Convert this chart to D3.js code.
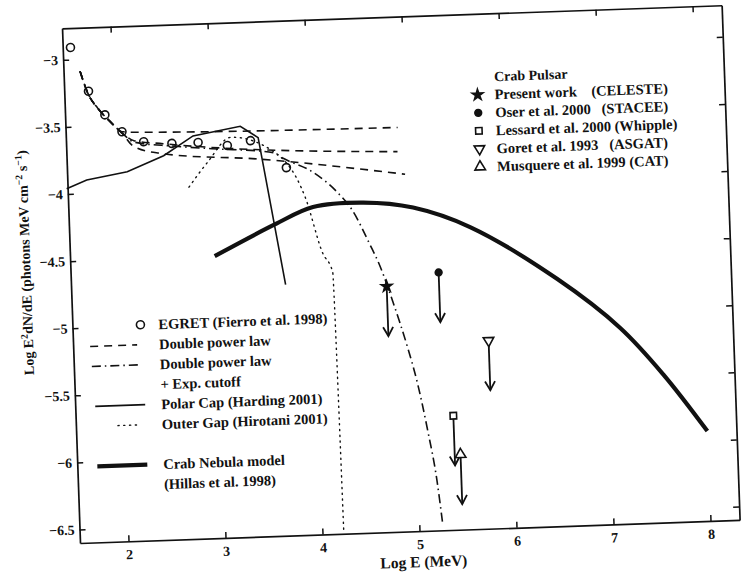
<!DOCTYPE html>
<html>
<head>
<meta charset="utf-8">
<script src="https://cdn.jsdelivr.net/npm/d3@7"></script>
<style>
  body { margin: 0; background: #fff; }
  svg text { font-family: "Liberation Serif", "Times New Roman", serif; font-weight: bold; fill: #111; }
</style>
</head>
<body>
<div id="chart"></div>
<script>
// EGRET points (Fierro et al. 1998), log E (MeV) and log E^2 dN/dE
const egretE = [1.58, 1.75, 1.91, 2.08, 2.30, 2.59, 2.86, 3.16, 3.40, 3.76];
const egretF = [-2.91, -3.24, -3.42, -3.55, -3.63, -3.65, -3.65, -3.68, -3.65, -3.86];

// double power law, three variants of the high energy slope
const dplTopE = [1.67, 1.74, 1.84, 1.96, 2.08, 2.30, 4.92];
const dplTopF = [-3.09, -3.25, -3.37, -3.47, -3.55, -3.56, -3.59];
const dplMidE = [1.67, 1.74, 1.84, 1.96, 2.08, 2.20, 2.50, 4.91];
const dplMidF = [-3.09, -3.25, -3.37, -3.47, -3.56, -3.62, -3.65, -3.77];
const dplLowE = [1.67, 1.74, 1.84, 1.96, 2.08, 2.19, 2.46, 3.49, 4.98];
const dplLowF = [-3.09, -3.25, -3.37, -3.47, -3.56, -3.66, -3.72, -3.79, -3.94];

// double power law + exponential cutoff
const cutE = [1.67, 1.74, 1.84, 1.96, 2.08, 2.20, 2.60, 3.00, 3.63, 3.73, 4.03, 4.28, 4.42, 4.59, 4.69, 4.81, 4.94, 5.03, 5.12, 5.20, 5.24];
const cutF = [-3.09, -3.25, -3.37, -3.47, -3.56, -3.63, -3.67, -3.70, -3.745, -3.79, -3.90, -4.06, -4.19, -4.45, -4.62, -4.89, -5.22, -5.49, -5.85, -6.24, -6.54];

// polar cap (Harding 2001)
const polarE = [1.49, 1.70, 2.12, 2.50, 2.81, 3.30, 3.48, 3.71];
const polarF = [-3.96, -3.90, -3.85, -3.74, -3.60, -3.54, -3.63, -4.73];

// outer gap (Hirotani 2001)
const outerE = [2.75, 2.95, 3.20, 3.60, 3.95, 4.10, 4.20, 4.22];
const outerF = [-3.98, -3.80, -3.62, -3.72, -4.10, -4.50, -4.65, -6.58];

// Crab nebula model (Hillas et al. 1998)
const nebulaE = [2.99, 3.62, 4.02, 4.54, 5.05, 5.63, 6.51, 7.14, 7.57, 8.00];
const nebulaF = [-4.50, -4.28, -4.16, -4.14, -4.19, -4.35, -4.76, -5.14, -5.50, -5.93];

// upper limits
const ulNames = ["Present work    (CELESTE)", "Oser et al. 2000   (STACEE)", "Lessard et al. 2000 (Whipple)", "Goret et al. 1993   (ASGAT)", "Musquere et al. 1999 (CAT)"];
const ulE = [4.75, 5.29, 5.39, 5.78, 5.45];
const ulF = [-4.77, -4.68, -5.75, -5.20, -6.04];

const xTicks = [2, 3, 4, 5, 6, 7, 8];
const yTicks = [-3, -3.5, -4, -4.5, -5, -5.5, -6, -6.5];

const width = 741, height = 573;
const w = 660, h = 515;

const svg = d3.select("#chart").append("svg")
  .attr("width", width)
  .attr("height", height);

// the scanned figure is tilted by about 2 degrees
const g = svg.append("g")
  .attr("transform", "rotate(-2, 80, 543) translate(80, 28)");

const x = d3.scaleLinear().domain([1.5, 8.3]).range([0, w]);
const y = d3.scaleLinear().domain([-6.6, -2.765]).range([h, 0]);

// axes, ticks pointing inward on all four sides
function styleAxis(sel) {
  sel.select(".domain").attr("stroke", "#111").attr("stroke-width", 1.7);
  sel.selectAll(".tick line").attr("stroke", "#111").attr("stroke-width", 1.5);
  sel.selectAll(".tick text").style("font-size", "14px");
}

g.append("g")
  .attr("transform", `translate(0,${h})`)
  .call(d3.axisBottom(x).tickValues(xTicks).tickSizeInner(-6).tickSizeOuter(0).tickPadding(8).tickFormat(d3.format("d")))
  .call(styleAxis);

g.append("g")
  .call(d3.axisLeft(y).tickValues(yTicks).tickSizeInner(-6).tickSizeOuter(0).tickPadding(5).tickFormat(d3.format("")))
  .call(styleAxis);

g.append("g")
  .call(d3.axisTop(x).tickValues(xTicks).tickSizeInner(-6).tickSizeOuter(0).tickFormat(""))
  .call(styleAxis);

g.append("g")
  .attr("transform", `translate(${w},0)`)
  .call(d3.axisRight(y).tickValues(yTicks).tickSizeInner(-6).tickSizeOuter(0).tickFormat(""))
  .call(styleAxis);

// axis titles
g.append("text")
  .attr("x", w / 2 + 13)
  .attr("y", h + 36)
  .attr("text-anchor", "middle")
  .style("font-size", "15.5px")
  .text("Log E (MeV)");

const yLab = g.append("text")
  .attr("transform", "translate(-40,233) rotate(-90)")
  .attr("text-anchor", "middle")
  .style("font-size", "14px");
yLab.append("tspan").text("Log E");
yLab.append("tspan").attr("dy", -5).style("font-size", "10px").text("2");
yLab.append("tspan").attr("dy", 5).text("dN/dE (photons MeV cm");
yLab.append("tspan").attr("dy", -5).style("font-size", "10px").text("−2");
yLab.append("tspan").attr("dy", 5).text(" s");
yLab.append("tspan").attr("dy", -5).style("font-size", "10px").text("−1");
yLab.append("tspan").attr("dy", 5).text(")");

// model curves
const pts = (xs, ys) => xs.map((d, i) => [d, ys[i]]);
const line = d3.line().x(d => x(d[0])).y(d => y(d[1])).curve(d3.curveMonotoneX);
const lineStraight = d3.line().x(d => x(d[0])).y(d => y(d[1]));
const dotted = "1.2,4.6";

function curve(data, gen, dash, sw) {
  g.append("path")
    .datum(data)
    .attr("fill", "none")
    .attr("stroke", "#111")
    .attr("stroke-width", sw)
    .attr("stroke-dasharray", dash)
    .attr("stroke-linecap", dash === dotted ? "round" : "butt")
    .attr("d", gen);
}

curve(pts(dplTopE, dplTopF), line, "8,6", 1.6);
curve(pts(dplMidE, dplMidF), line, "8,6", 1.6);
curve(pts(dplLowE, dplLowF), line, "8,6", 1.6);
curve(pts(cutE, cutF), line, "9,4,1.5,4", 1.6);
curve(pts(polarE, polarF), lineStraight, null, 1.6);
curve(pts(outerE, outerF), line, dotted, 1.4);
curve(pts(nebulaE, nebulaF), d3.line().x(d => x(d[0])).y(d => y(d[1])).curve(d3.curveCatmullRom), null, 4.2);

// EGRET circles
g.selectAll("circle.egret")
  .data(pts(egretE, egretF))
  .join("circle")
  .attr("class", "egret")
  .attr("cx", d => x(d[0]))
  .attr("cy", d => y(d[1]))
  .attr("r", 4)
  .attr("fill", "none")
  .attr("stroke", "#111")
  .attr("stroke-width", 1.6);

// upper limit markers
const symbols = [
  d3.symbol().type(d3.symbolStar).size(36),
  d3.symbol().type(d3.symbolCircle).size(36),
  d3.symbol().type(d3.symbolSquare).size(42),
  d3.symbol().type(d3.symbolTriangle).size(48),
  d3.symbol().type(d3.symbolTriangle).size(48)
];
const filled = [true, true, false, false, false];
const flipped = [false, false, false, true, false];
const arrowLen = 0.37;

function marker(sel, i, cx, cy) {
  sel.append("path")
    .attr("d", symbols[i]())
    .attr("transform", `translate(${cx},${cy})` + (flipped[i] ? " rotate(180)" : ""))
    .attr("fill", filled[i] ? "#111" : "#fff")
    .attr("stroke", "#111")
    .attr("stroke-width", 1.6);
}

ulE.forEach((e, i) => {
  const px = x(e), py = y(ulF[i]), ty = y(ulF[i] - arrowLen);
  g.append("line")
    .attr("x1", px).attr("y1", py)
    .attr("x2", px).attr("y2", ty)
    .attr("stroke", "#111").attr("stroke-width", 1.8);
  g.append("path")
    .attr("d", `M${px - 5},${ty - 9}L${px},${ty}L${px + 5},${ty - 9}`)
    .attr("fill", "none").attr("stroke", "#111").attr("stroke-width", 1.8);
  marker(g, i, px, py);
});

// legend: Crab pulsar upper limits
const legR = g.append("g").attr("transform", "translate(413,63)");
legR.append("text").attr("x", 17).attr("y", 0).attr("dy", "0.35em")
  .style("font-size", "14px").text("Crab Pulsar");
ulNames.forEach((name, i) => {
  const yy = 18 + i * 18;
  marker(legR, i, 0, yy);
  legR.append("text").attr("x", 17).attr("y", yy).attr("dy", "0.35em")
    .style("font-size", "14.5px").style("white-space", "pre").attr("xml:space", "preserve").text(name);
});

// legend: models
const legL = g.append("g");
const legItems = [
  { label: "EGRET (Fierro et al. 1998)", y: 299, kind: "circle" },
  { label: "Double power law", y: 319, kind: "line", dash: "8,6", sw: 1.6, x1: 17, x2: 64 },
  { label: "Double power law", y: 339, kind: "line", dash: "9,4,1.5,4", sw: 1.6, x1: 18, x2: 65 },
  { label: "+ Exp. cutoff", y: 359, kind: "none" },
  { label: "Polar Cap (Harding 2001)", y: 379, kind: "line", dash: null, sw: 1.6, x1: 20, x2: 70 },
  { label: "Outer Gap (Hirotani 2001)", y: 399, kind: "line", dash: dotted, sw: 1.4, x1: 42, x2: 62 },
  { label: "Crab Nebula model", y: 439, kind: "line", dash: null, sw: 4.2, x1: 20, x2: 70 },
  { label: "(Hillas et al. 1998)", y: 459, kind: "none" }
];
legItems.forEach(it => {
  if (it.kind === "circle") {
    legL.append("circle").attr("cx", 68).attr("cy", it.y).attr("r", 4)
      .attr("fill", "none").attr("stroke", "#111").attr("stroke-width", 1.6);
  } else if (it.kind === "line") {
    legL.append("line").attr("x1", it.x1).attr("x2", it.x2).attr("y1", it.y).attr("y2", it.y)
      .attr("stroke", "#111").attr("stroke-width", it.sw)
      .attr("stroke-dasharray", it.dash)
      .attr("stroke-linecap", it.dash === dotted ? "round" : "butt");
  }
  legL.append("text").attr("x", 86).attr("y", it.y).attr("dy", "0.35em")
    .style("font-size", "14.5px").text(it.label);
});
</script>
</body>
</html>
